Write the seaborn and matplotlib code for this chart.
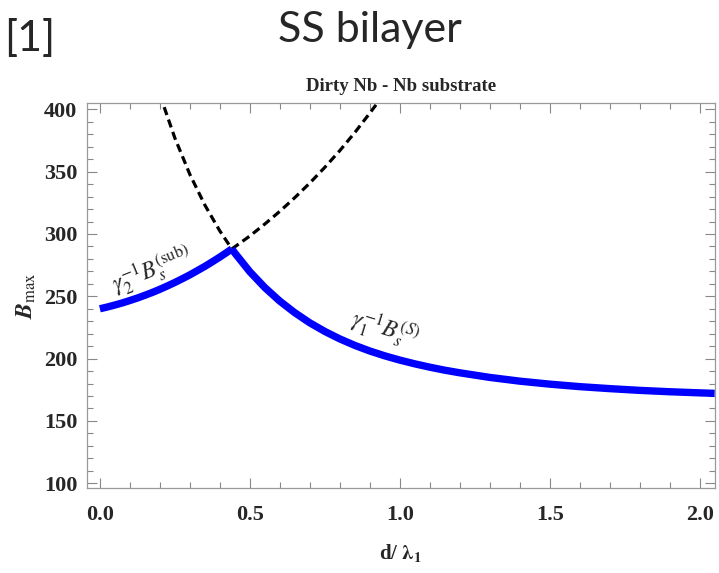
import numpy as np
import pandas as pd
import matplotlib
matplotlib.use("Agg")
import matplotlib.pyplot as plt
import seaborn as sns

# Maximum field in the substrate branch: gamma_2^-1 B_s^(sub)
x_sub = [0.0, 0.025, 0.05, 0.075, 0.10, 0.125, 0.15, 0.175, 0.20, 0.225,
         0.25, 0.275, 0.30, 0.325, 0.35, 0.375, 0.40, 0.42, 0.44]
b_sub = [240.0, 241.4, 243.0, 244.7, 246.6, 248.6, 250.8, 253.1, 255.6, 258.3,
         261.1, 264.1, 267.2, 270.6, 274.0, 277.7, 281.5, 284.7, 288.0]

# Its continuation beyond the crossing (not realised)
x_sub_ext = [0.44, 0.45, 0.50, 0.55, 0.60, 0.65, 0.70, 0.75, 0.80, 0.85, 0.90, 0.95]
b_sub_ext = [288.0, 289.7, 298.4, 308.0, 318.2, 329.2, 340.9, 353.5, 366.9, 381.4,
             397.0, 413.0]

# Maximum field in the top layer branch: gamma_1^-1 B_s^(S)
x_top = [0.44, 0.45, 0.50, 0.55, 0.60, 0.65, 0.70, 0.75, 0.80, 0.85, 0.90, 0.95,
         1.00, 1.05, 1.10, 1.15, 1.20, 1.30, 1.40, 1.50, 1.60, 1.70, 1.80, 1.90,
         2.00, 2.05]
b_top = [288.0, 284.7, 269.7, 257.0, 246.1, 236.8, 228.7, 221.8, 215.8, 210.6,
         206.1, 202.2, 198.8, 195.8, 193.1, 190.7, 188.6, 184.9, 181.9, 179.5,
         177.5, 175.9, 174.5, 173.4, 172.5, 172.1]

# Its continuation below the crossing (not realised)
x_top_ext = [0.20, 0.25, 0.30, 0.35, 0.40, 0.44]
b_top_ext = [411.7, 377.0, 347.8, 323.2, 302.4, 288.0]

x_ticks = [0.0, 0.5, 1.0, 1.5, 2.0]
y_ticks = [100, 150, 200, 250, 300, 350, 400]

sns.set_style("ticks")
plt.rcParams["font.family"] = ["Liberation Serif", "DejaVu Serif"]
plt.rcParams["mathtext.fontset"] = "stix"

fig = plt.figure(figsize=(7.19, 5.73), dpi=100)
ax = fig.add_axes([0.121, 0.148, 0.873, 0.672])

blue = "#0000ff"
dash = (0, (2.6, 1.5))
sns.lineplot(x=x_top_ext, y=b_top_ext, ax=ax, color="black", lw=2.3,
             linestyle=dash, sort=False)
sns.lineplot(x=x_sub_ext, y=b_sub_ext, ax=ax, color="black", lw=2.3,
             linestyle=dash, sort=False)
sns.lineplot(x=x_sub, y=b_sub, ax=ax, color=blue, lw=5.3, sort=False,
             solid_capstyle="butt", solid_joinstyle="round")
sns.lineplot(x=x_top, y=b_top, ax=ax, color=blue, lw=5.3, sort=False,
             solid_capstyle="butt", solid_joinstyle="round")

ax.set_xlim(-0.043, 2.05)
ax.set_ylim(96, 405)
ax.set_xticks(x_ticks)
ax.set_xticklabels([f"{v:.1f}" for v in x_ticks])
ax.set_yticks(y_ticks)
ax.set_xticks(np.arange(0.0, 2.05, 0.1), minor=True)
ax.set_yticks(np.arange(100, 401, 10), minor=True)
ax.tick_params(which="both", direction="in", top=True, right=True,
               color="#888888", width=0.8)
ax.tick_params(which="major", length=7, labelsize=16)
ax.tick_params(axis="x", which="major", pad=12)
ax.tick_params(axis="y", which="major", pad=7)
ax.tick_params(which="minor", length=4)
for lab in ax.get_xticklabels() + ax.get_yticklabels():
    lab.set_fontweight("bold")
for sp in ax.spines.values():
    sp.set_color("#999999")
    sp.set_linewidth(0.9)

ax.set_xlabel(r"d/ $\mathbf{\lambda_1}$", fontsize=15, fontweight="bold", labelpad=12)
ax.set_ylabel(r"$\boldsymbol{B}_{\mathrm{max}}$", fontsize=17, labelpad=4)
ax.set_title("Dirty Nb - Nb substrate", fontsize=13.5, fontweight="bold", pad=9)

ax.text(0.175, 271, r"$\gamma_2^{-1}B_s^{(\mathrm{sub})}$", fontsize=17,
        rotation=22, ha="center", va="center")
ax.text(0.95, 224, r"$\gamma_1^{-1}B_s^{(S)}$", fontsize=17,
        rotation=-17, ha="center", va="center")

fig.text(0.515, 0.948, "SS bilayer", fontsize=31, ha="center", va="center",
         family=["Lato", "DejaVu Sans"])
fig.text(0.006, 0.932, "[1]", fontsize=31, ha="left", va="center",
         family=["Lato", "DejaVu Sans"])

fig.savefig("out.png", dpi=100)
